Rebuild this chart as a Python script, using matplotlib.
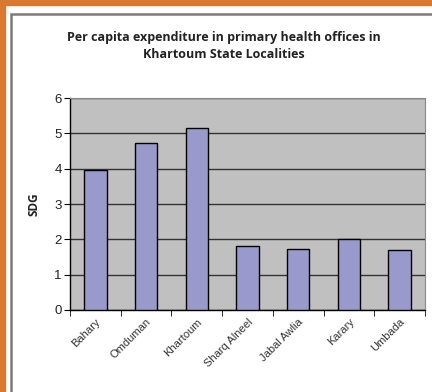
import matplotlib
matplotlib.use("Agg")
import matplotlib.pyplot as plt
from matplotlib.patches import Rectangle
import numpy as np

categories = ["Bahary", "Omduman", "Khartoum", "Sharq Alneel", "Jabal Awlia", "Karary", "Umbada"]
values = [3.95, 4.73, 5.15, 1.82, 1.72, 2.0, 1.69]
yticks = [0, 1, 2, 3, 4, 5, 6]
title = "Per capita expenditure in primary health offices in\nKhartoum State Localities"
ylabel = "SDG"

W, H = 432, 392
fig = plt.figure(figsize=(W/100, H/100), dpi=100)
fig.patch.set_facecolor("white")
# orange frame
fig.patches.append(Rectangle((0, 0), 5/W, 1, transform=fig.transFigure, color="#D9782F", zorder=0))
fig.patches.append(Rectangle((0, 1-5/H), 1, 5/H, transform=fig.transFigure, color="#D9782F", zorder=0))
# gray panel border
fig.patches.append(Rectangle((10.5/W, -0.05), 1.2, 1-14/H+0.05, transform=fig.transFigure,
                             fill=False, edgecolor="#7a7a7a", linewidth=1.8, zorder=1))

ax = fig.add_axes([70/W, 1-310/H, 355/W, 212/H])
ax.set_facecolor("#C0C0C0")
x = np.arange(len(categories))
ax.bar(x, values, width=0.44, color="#9999CC", edgecolor="black", linewidth=1.0, zorder=3)
ax.set_xlim(-0.5, len(categories)-0.5)
ax.set_ylim(0, 6)
ax.set_yticks(yticks)
ax.set_yticklabels([str(t) for t in yticks], fontsize=9.5, family="Liberation Sans", color="#222222")
ax.yaxis.grid(True, color="#333333", linewidth=1.0, zorder=1)
ax.set_axisbelow(True)
ax.set_xticks(x)
ax.set_xticklabels(categories, rotation=45, ha="right", rotation_mode="anchor",
                   fontsize=8, family="Liberation Sans", color="#333333")
ax.tick_params(axis="x", length=0, pad=5)
ax.set_xticks(np.arange(-0.5, len(categories)), minor=True)
ax.tick_params(axis="x", which="minor", length=4, color="black")
ax.tick_params(axis="y", length=4, color="black", pad=2)
for s in ["top", "right"]:
    ax.spines[s].set_color("#888888")
    ax.spines[s].set_linewidth(0.8)
ax.spines["left"].set_color("black")
ax.spines["bottom"].set_color("black")
ax.spines["left"].set_linewidth(1.0)
ax.spines["bottom"].set_linewidth(1.0)
ax.set_ylabel(ylabel, fontsize=8.5, fontweight="bold", family="Open Sans", labelpad=10, color="#222222")

fig.text(224/W, 1-46/H, title, ha="center", va="center", fontsize=9, fontweight="bold",
         family="Open Sans", color="#222222", linespacing=1.5)

fig.savefig("out.png", dpi=100)
